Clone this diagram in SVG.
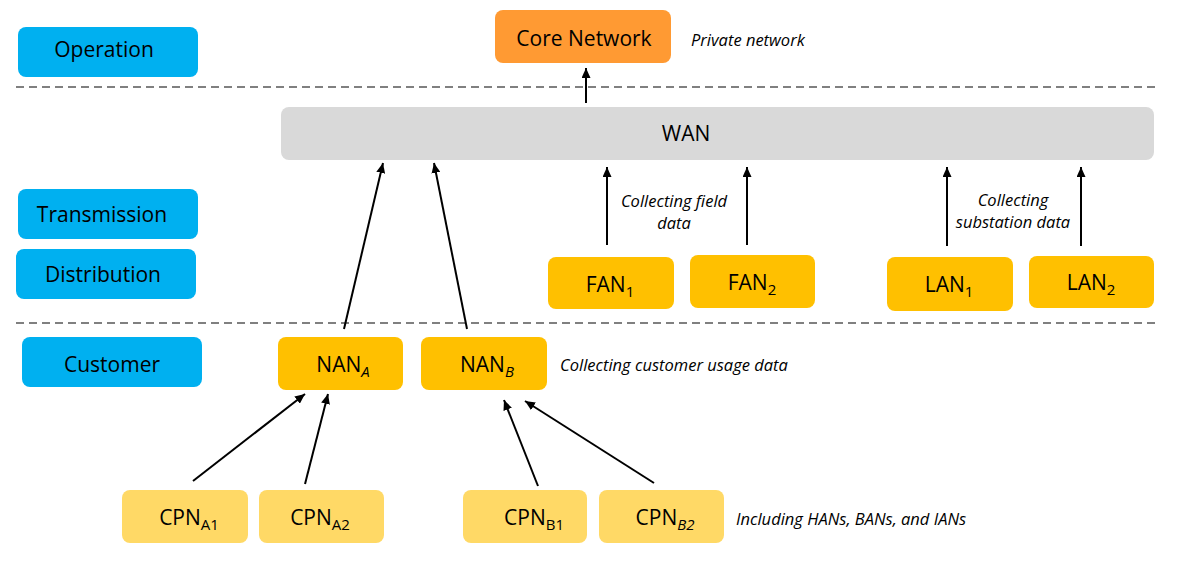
<svg xmlns="http://www.w3.org/2000/svg" width="1177" height="563" viewBox="0 0 1177 563">
<defs>
<style>
.lbl{font-family:"Open Sans","Noto Sans","Liberation Sans",sans-serif;font-size:21px;fill:#000;text-anchor:middle}
.it{font-family:"Open Sans","Noto Sans","Liberation Sans",sans-serif;font-size:16.5px;font-style:italic;fill:#000}
.sub{font-size:15px}
.blue{fill:#00B0F0}
.core{fill:#FF9A33}
.gold{fill:#FFC000}
.lite{fill:#FFD966}
.wan{fill:#D9D9D9}
.dash{stroke:#808080;stroke-width:2;stroke-dasharray:8 5;fill:none}
.arr{stroke:#000;stroke-width:2;fill:none;marker-end:url(#ah)}
</style>
<marker id="ah" markerUnits="userSpaceOnUse" markerWidth="11" markerHeight="9" refX="10" refY="4.5" orient="auto">
<path d="M0,0 L10,4.5 L0,9 z" fill="#000"/>
</marker>
</defs>
<rect width="1177" height="563" fill="#fff"/>
<g id="separators">
<line class="dash" x1="16" y1="87" x2="1156" y2="87"/>
<line class="dash" x1="16" y1="323" x2="1156" y2="323"/>
</g>
<g id="operation"><rect class="blue" x="18" y="27" width="180" height="50" rx="8"/><text class="lbl" x="104" y="57">Operation</text></g>
<g id="transmission"><rect class="blue" x="18" y="189" width="180" height="50" rx="8"/><text class="lbl" x="102" y="222">Transmission</text></g>
<g id="distribution"><rect class="blue" x="16" y="249" width="180" height="50" rx="8"/><text class="lbl" x="103" y="282">Distribution</text></g>
<g id="customer"><rect class="blue" x="22" y="337" width="180" height="50" rx="8"/><text class="lbl" x="112" y="372">Customer</text></g>
<g id="core-network"><rect class="core" x="495" y="10" width="176" height="53" rx="8"/><text class="lbl" x="584" y="46">Core Network</text></g>
<text class="it" x="691" y="46">Private network</text>
<g id="wan"><rect class="wan" x="281" y="107" width="873" height="53" rx="8"/><text class="lbl" x="686" y="141">WAN</text></g>
<g id="fan1"><rect class="gold" x="548" y="257" width="126" height="52" rx="8"/><text class="lbl" x="610" y="292">FAN<tspan class="sub" dy="5">1</tspan></text></g>
<g id="fan2"><rect class="gold" x="690" y="255" width="125" height="53" rx="8"/><text class="lbl" x="752" y="290">FAN<tspan class="sub" dy="5">2</tspan></text></g>
<g id="lan1"><rect class="gold" x="887" y="257" width="126" height="54" rx="8"/><text class="lbl" x="949" y="292">LAN<tspan class="sub" dy="5">1</tspan></text></g>
<g id="lan2"><rect class="gold" x="1029" y="256" width="125" height="52" rx="8"/><text class="lbl" x="1091" y="290">LAN<tspan class="sub" dy="5">2</tspan></text></g>
<text class="it" x="674" y="207" text-anchor="middle">Collecting field</text>
<text class="it" x="674" y="229" text-anchor="middle">data</text>
<text class="it" x="1013" y="206" text-anchor="middle">Collecting</text>
<text class="it" x="1013" y="228" text-anchor="middle">substation data</text>
<g id="nan-a"><rect class="gold" x="278" y="337" width="125" height="53" rx="8"/><text class="lbl" x="343" y="372">NAN<tspan class="sub" font-style="italic" dy="5">A</tspan></text></g>
<g id="nan-b"><rect class="gold" x="421" y="337" width="126" height="53" rx="8"/><text class="lbl" x="487" y="372">NAN<tspan class="sub" font-style="italic" dy="5">B</tspan></text></g>
<text class="it" x="560" y="371">Collecting customer usage data</text>
<g id="cpn-a1"><rect class="lite" x="122" y="490" width="126" height="53" rx="8"/><text class="lbl" x="189" y="525">CPN<tspan class="sub" dy="5">A1</tspan></text></g>
<g id="cpn-a2"><rect class="lite" x="259" y="490" width="125" height="53" rx="8"/><text class="lbl" x="320" y="525">CPN<tspan class="sub" dy="5">A2</tspan></text></g>
<g id="cpn-b1"><rect class="lite" x="463" y="490" width="124" height="53" rx="8"/><text class="lbl" x="534" y="525">CPN<tspan class="sub" dy="5">B1</tspan></text></g>
<g id="cpn-b2"><rect class="lite" x="599" y="490" width="125" height="53" rx="8"/><text class="lbl" x="665" y="525">CPN<tspan class="sub" font-style="italic" dy="5">B2</tspan></text></g>
<text class="it" x="736" y="525">Including HANs, BANs, and IANs</text>
<g id="connectors">
<line class="arr" x1="586" y1="103" x2="586" y2="68"/>
<line class="arr" x1="607" y1="245" x2="607" y2="167"/>
<line class="arr" x1="747" y1="245" x2="747" y2="167"/>
<line class="arr" x1="947" y1="246" x2="947" y2="167"/>
<line class="arr" x1="1081" y1="246" x2="1081" y2="167"/>
<line class="arr" x1="344" y1="329" x2="383" y2="163"/>
<line class="arr" x1="467" y1="329" x2="434" y2="163"/>
<line class="arr" x1="193" y1="481" x2="305" y2="394"/>
<line class="arr" x1="305" y1="484" x2="328" y2="394"/>
<line class="arr" x1="538" y1="486" x2="504" y2="400"/>
<line class="arr" x1="654" y1="483" x2="525" y2="401"/>
</g>
</svg>
